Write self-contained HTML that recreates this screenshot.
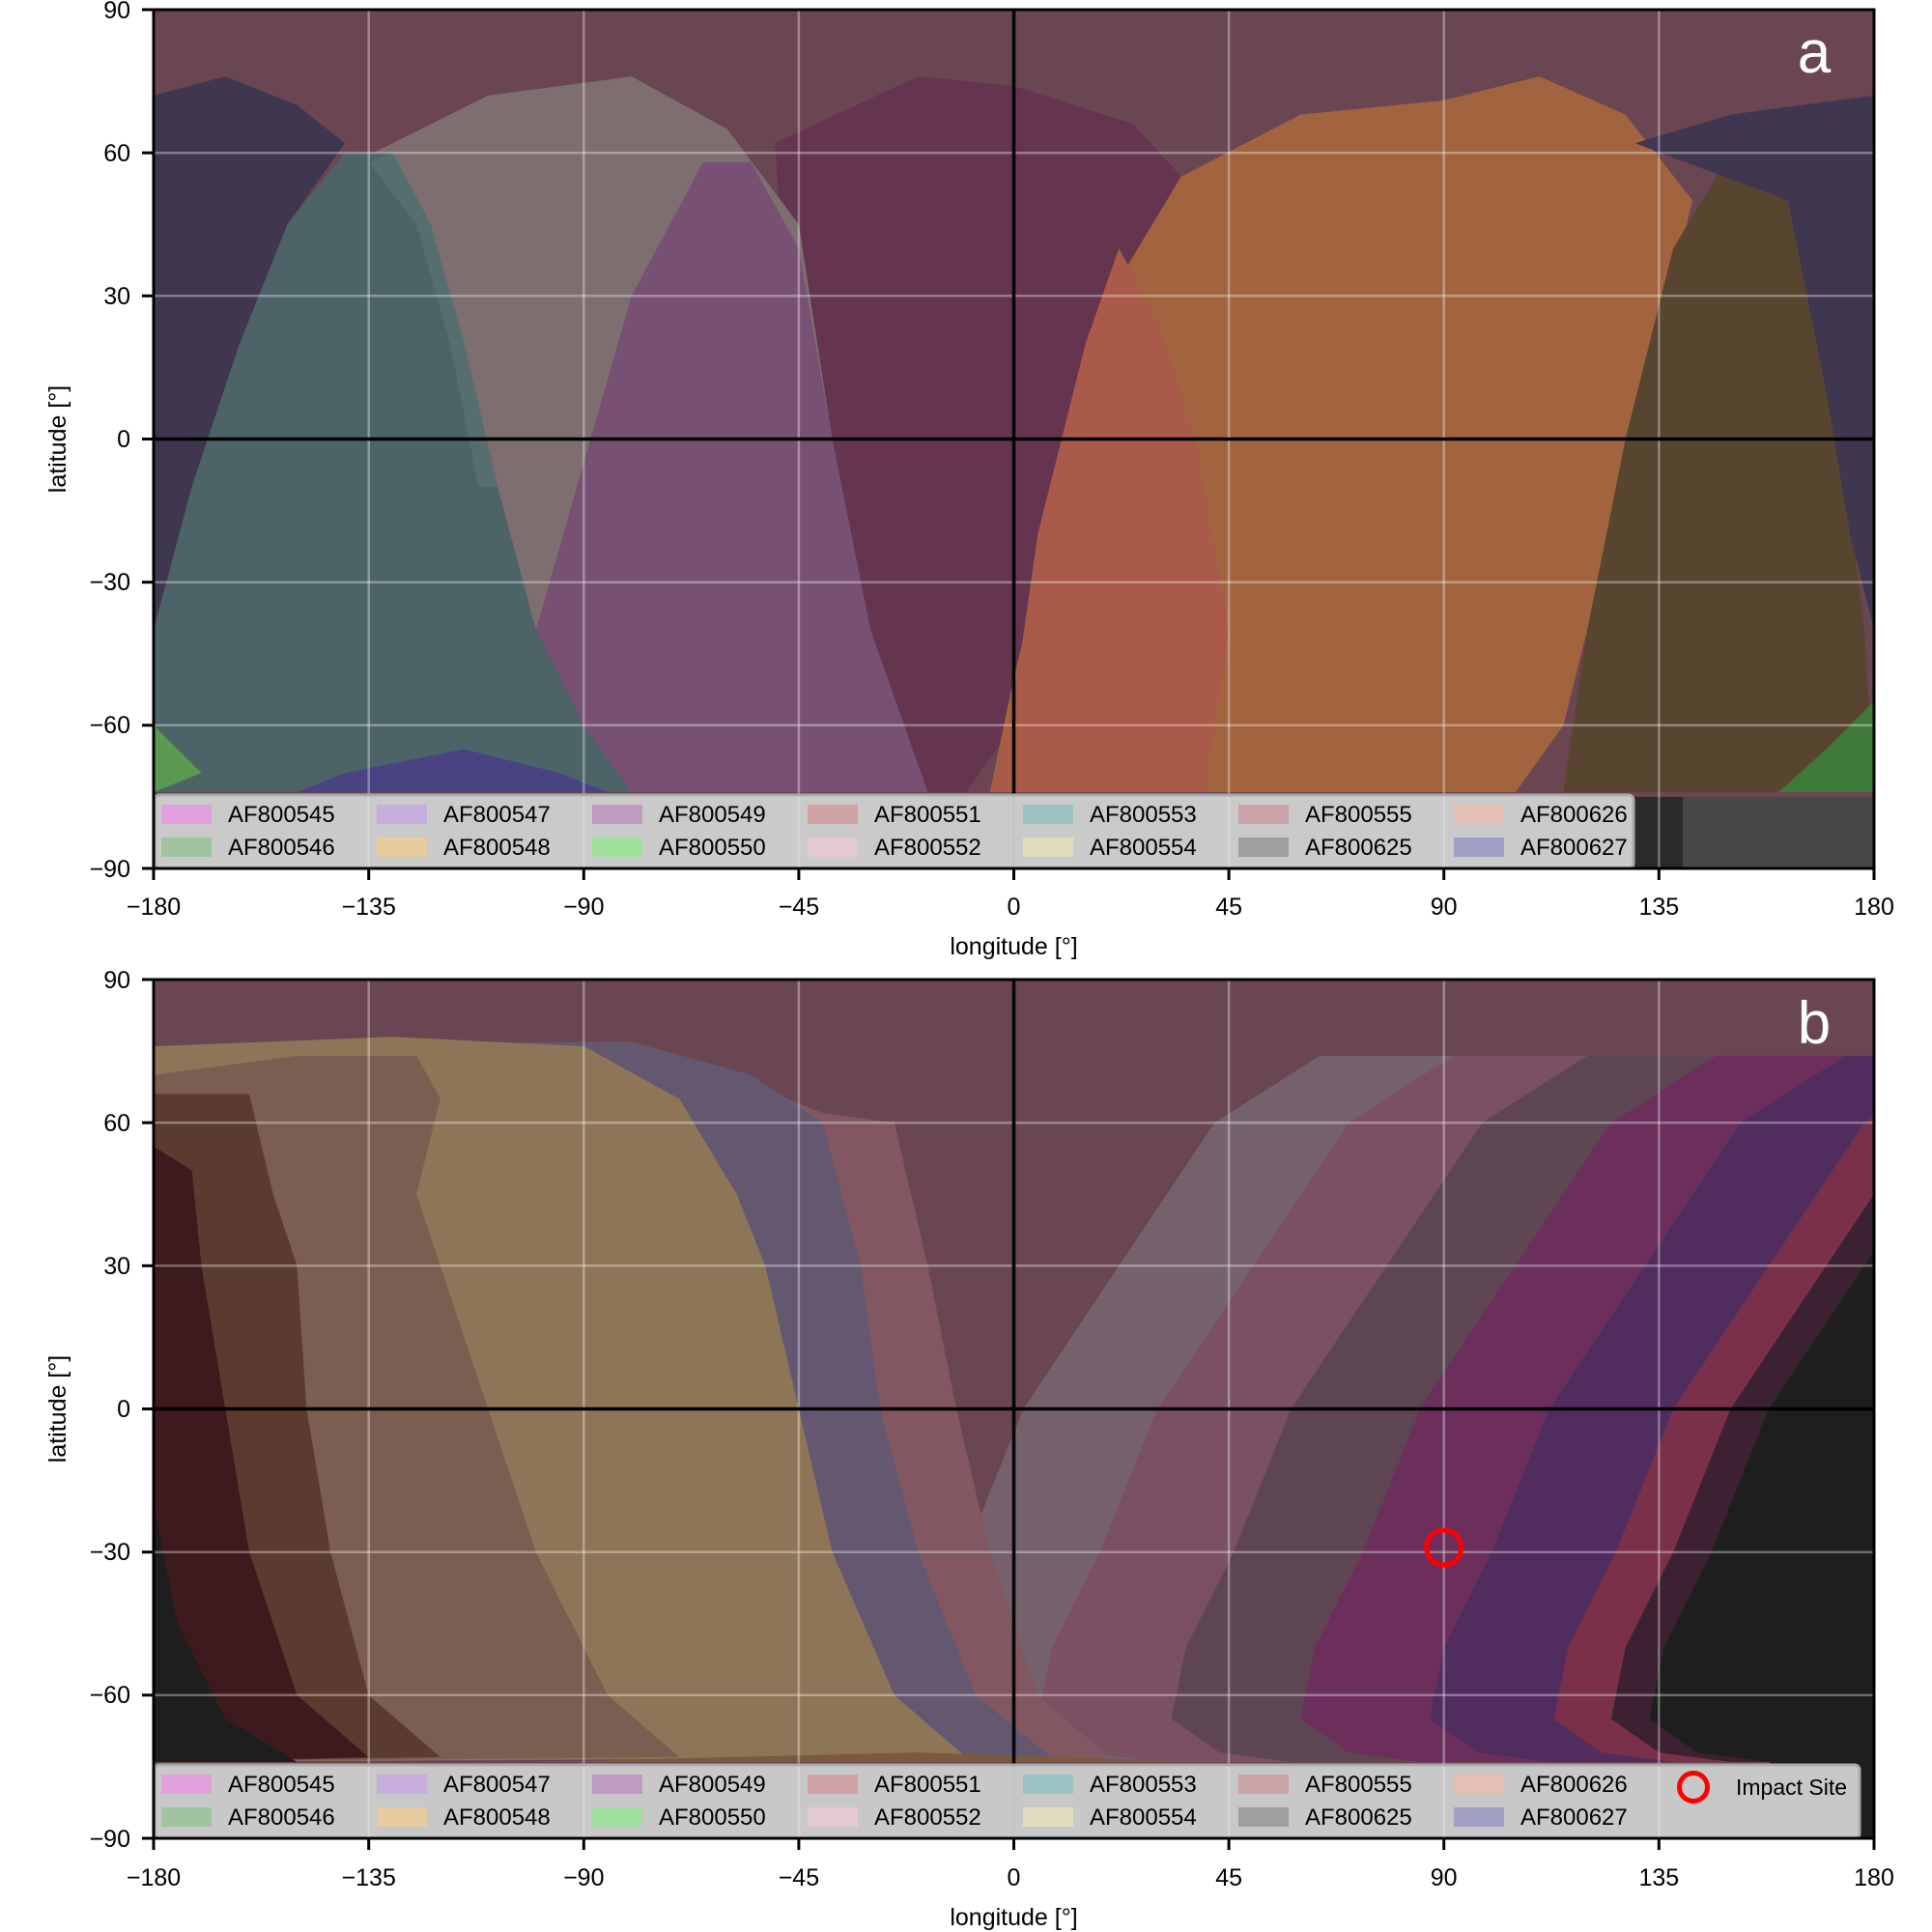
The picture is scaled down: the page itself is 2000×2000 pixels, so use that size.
<!DOCTYPE html>
<html><head><meta charset="utf-8"><style>
html,body{margin:0;padding:0;background:#fff}
svg{display:block}
text{font-family:"Liberation Sans",Arial,sans-serif;fill:#000}
</style></head><body>
<svg width="2000" height="2000" viewBox="0 0 2000 2000" xmlns="http://www.w3.org/2000/svg">
<defs>
<clipPath id="cp"><rect x="-180" y="-90" width="360" height="180"/></clipPath>
</defs>

<!-- PANEL A -->
<g transform="translate(1049.5,454.5) scale(4.947,-4.939)" clip-path="url(#cp)">
<rect x="-180" y="-90" width="360" height="180" fill="#2a2a2a"/>
<rect x="140" y="-90" width="40" height="16" fill="#474747"/>
<rect x="-180" y="-75" width="360" height="165" fill="#6a4552"/>
<polygon fill="#65344f" points="-50,62 -20,76 0,74 25,66 35,55 30,20 15,-30 0,-60 -10,-74 -40,-74"/>
<polygon fill="#7d6e6f" points="-138,58 -110,72 -80,76 -60,65 -45,45 -38,0 -30,-40 -20,-74 -140,-74 -122,-45 -118,0 -125,40"/>
<polygon fill="#785074" points="-115,-74 -100,-40 -90,-5 -80,30 -65,58 -55,58 -45,40 -38,0 -30,-40 -18,-74"/>
<polygon fill="#3f3650" points="-180,72 -165,76 -150,70 -140,62 -152,45 -162,20 -172,-10 -180,-40"/>
<polygon fill="#4c6467" points="-180,-40 -172,-10 -162,20 -152,45 -140,60 -130,60 -122,45 -115,20 -108,-10 -100,-40 -90,-60 -80,-74 -180,-74"/>
<polygon fill="#5f7476" opacity="0.6" points="-135,58 -125,45 -118,20 -112,-10 -108,-10 -115,20 -122,45 -130,60"/>
<polygon fill="#4a3590" opacity="0.7" points="-140,-70 -115,-65 -95,-70 -85,-74 -150,-74"/>
<polygon fill="#a2643f" points="20,30 35,55 60,68 90,71 110,76 128,68 142,50 135,20 125,-20 115,-60 105,-74 -5,-74 0,-50 10,-10"/>
<polygon fill="#a95a48" points="0,-55 5,-20 15,20 22,40 30,25 38,0 45,-40 40,-74 -5,-74"/>
<polygon fill="#58452f" points="115,-74 120,-40 128,0 138,40 150,60 165,50 172,10 178,-40 180,-74"/>
<polygon fill="#3f3650" points="130,62 150,68 180,72 180,-40 175,-20 170,10 162,50"/>
<polygon fill="#3e7a3a" points="160,-74 170,-65 180,-55 180,-74"/>
<polygon fill="#5a9a50" points="-180,-60 -170,-70 -180,-74"/>
</g>

<!-- PANEL B -->
<g transform="translate(1049.5,1458.5) scale(4.947,-4.939)" clip-path="url(#cp)">
<rect x="-180" y="-90" width="360" height="180" fill="#1e1e1e"/>
<rect x="-180" y="-75" width="360" height="165" fill="#6a4552"/>
<polygon fill="#75616b" points="64,74 42,60 32,45 22,30 12,15 2,0 -10,-30 -20,-50 -23,-65 -13,-72 2,-74 180,-74 180,74"/>
<polygon fill="#7b5062" points="92,74 70,60 60,45 50,30 40,15 30,0 18,-30 8,-50 5,-65 15,-72 30,-74 180,-74 180,74"/>
<polygon fill="#5d4651" points="120,74 98,60 88,45 78,30 68,15 58,0 46,-30 36,-50 33,-65 43,-72 58,-74 180,-74 180,74"/>
<polygon fill="#6c2f5c" points="147,74 125,60 115,45 105,30 95,15 85,0 73,-30 63,-50 60,-65 70,-72 85,-74 180,-74 180,74"/>
<polygon fill="#512d5f" points="174,74 152,60 142,45 132,30 122,15 112,0 100,-30 90,-50 87,-65 97,-72 112,-74 180,-74 180,74"/>
<polygon fill="#7a3049" points="200,74 178,60 168,45 158,30 148,15 138,0 126,-30 116,-50 113,-65 123,-72 138,-74 180,-74 180,74"/>
<polygon fill="#3b2131" points="212,74 190,60 180,45 170,30 160,15 150,0 138,-30 128,-50 125,-65 135,-72 150,-74 180,-74 180,74"/>
<polygon fill="#1e1e1e" points="220,74 198,60 188,45 178,30 168,15 158,0 146,-30 136,-50 133,-65 143,-72 158,-74 180,-90 180,74"/>
<polygon fill="#825762" points="-180,70 -60,70 -40,62 -25,60 -18,30 -12,0 -5,-30 5,-60 20,-73 -180,-74"/>
<polygon fill="#645871" points="-180,76 -80,77 -55,70 -40,60 -32,30 -28,0 -20,-30 -8,-60 8,-73 -180,-74"/>
<polygon fill="#8e7557" points="-180,76 -130,78 -90,76 -70,65 -58,45 -52,30 -45,0 -38,-30 -25,-60 -10,-73 -180,-74"/>
<polygon fill="#7b5d52" points="-180,70 -150,74 -125,74 -120,65 -125,45 -120,30 -110,0 -100,-30 -85,-60 -70,-73 -180,-74"/>
<polygon fill="#5b3b30" points="-180,66 -160,66 -155,45 -150,30 -148,0 -143,-30 -135,-60 -120,-73 -180,-74"/>
<polygon fill="#3d1a1d" points="-180,55 -172,50 -170,30 -165,0 -160,-30 -150,-60 -135,-73 -180,-74"/>
<polygon fill="#1e1e1e" points="-180,-20 -175,-45 -165,-65 -150,-74 -180,-74"/>
<polygon fill="#7a5a3a" points="-100,-74 -20,-72 40,-74"/>
</g>

<!-- grids and axes -->
<g stroke="#ffffff" stroke-opacity="0.35" stroke-width="2.5">
<line x1="381.7" y1="10" x2="381.7" y2="899"/><line x1="604.3" y1="10" x2="604.3" y2="899"/><line x1="826.9" y1="10" x2="826.9" y2="899"/><line x1="1272.1" y1="10" x2="1272.1" y2="899"/><line x1="1494.7" y1="10" x2="1494.7" y2="899"/><line x1="1717.3" y1="10" x2="1717.3" y2="899"/>
<line x1="159" y1="158.2" x2="1940" y2="158.2"/><line x1="159" y1="306.3" x2="1940" y2="306.3"/><line x1="159" y1="602.7" x2="1940" y2="602.7"/><line x1="159" y1="750.8" x2="1940" y2="750.8"/>
<line x1="381.7" y1="1014" x2="381.7" y2="1903"/><line x1="604.3" y1="1014" x2="604.3" y2="1903"/><line x1="826.9" y1="1014" x2="826.9" y2="1903"/><line x1="1272.1" y1="1014" x2="1272.1" y2="1903"/><line x1="1494.7" y1="1014" x2="1494.7" y2="1903"/><line x1="1717.3" y1="1014" x2="1717.3" y2="1903"/>
<line x1="159" y1="1162.2" x2="1940" y2="1162.2"/><line x1="159" y1="1310.3" x2="1940" y2="1310.3"/><line x1="159" y1="1606.7" x2="1940" y2="1606.7"/><line x1="159" y1="1754.8" x2="1940" y2="1754.8"/>
</g>
<g stroke="#000" stroke-width="3.5">
<line x1="1049.5" y1="10" x2="1049.5" y2="899"/><line x1="159" y1="454.5" x2="1940" y2="454.5"/>
<line x1="1049.5" y1="1014" x2="1049.5" y2="1903"/><line x1="159" y1="1458.5" x2="1940" y2="1458.5"/>
</g>

<circle cx="1494.7" cy="1602" r="18" fill="none" stroke="#ff0000" stroke-width="5"/>

<text x="1878" y="75" font-size="62" style="fill:#fff" text-anchor="middle">a</text>
<text x="1878" y="1080" font-size="62" style="fill:#fff" text-anchor="middle">b</text>

<rect x="160" y="823" width="1531" height="76" rx="5" fill="#e6e6e6" fill-opacity="0.85" stroke="#aaa" stroke-width="3"/>
<rect x="160" y="1827" width="1765" height="76" rx="5" fill="#e6e6e6" fill-opacity="0.85" stroke="#aaa" stroke-width="3"/>

<g font-size="24">
<rect x="167" y="833" width="52" height="20" fill="#e3a0df"/><text x="236" y="851">AF800545</text>
<rect x="167" y="867" width="52" height="20" fill="#a0c4a0"/><text x="236" y="885">AF800546</text>
<rect x="390" y="833" width="52" height="20" fill="#c8aede"/><text x="459" y="851">AF800547</text>
<rect x="390" y="867" width="52" height="20" fill="#e6cc9e"/><text x="459" y="885">AF800548</text>
<rect x="613" y="833" width="52" height="20" fill="#c09ac0"/><text x="682" y="851">AF800549</text>
<rect x="613" y="867" width="52" height="20" fill="#9fe09d"/><text x="682" y="885">AF800550</text>
<rect x="836" y="833" width="52" height="20" fill="#cfa2a6"/><text x="905" y="851">AF800551</text>
<rect x="836" y="867" width="52" height="20" fill="#e3c9d0"/><text x="905" y="885">AF800552</text>
<rect x="1059" y="833" width="52" height="20" fill="#9bc3c3"/><text x="1128" y="851">AF800553</text>
<rect x="1059" y="867" width="52" height="20" fill="#e2dcbe"/><text x="1128" y="885">AF800554</text>
<rect x="1282" y="833" width="52" height="20" fill="#c9a3a8"/><text x="1351" y="851">AF800555</text>
<rect x="1282" y="867" width="52" height="20" fill="#9e9e9e"/><text x="1351" y="885">AF800625</text>
<rect x="1505" y="833" width="52" height="20" fill="#e4bfb3"/><text x="1574" y="851">AF800626</text>
<rect x="1505" y="867" width="52" height="20" fill="#a0a0c4"/><text x="1574" y="885">AF800627</text>

<rect x="167" y="1837" width="52" height="20" fill="#e3a0df"/><text x="236" y="1855">AF800545</text>
<rect x="167" y="1871" width="52" height="20" fill="#a0c4a0"/><text x="236" y="1889">AF800546</text>
<rect x="390" y="1837" width="52" height="20" fill="#c8aede"/><text x="459" y="1855">AF800547</text>
<rect x="390" y="1871" width="52" height="20" fill="#e6cc9e"/><text x="459" y="1889">AF800548</text>
<rect x="613" y="1837" width="52" height="20" fill="#c09ac0"/><text x="682" y="1855">AF800549</text>
<rect x="613" y="1871" width="52" height="20" fill="#9fe09d"/><text x="682" y="1889">AF800550</text>
<rect x="836" y="1837" width="52" height="20" fill="#cfa2a6"/><text x="905" y="1855">AF800551</text>
<rect x="836" y="1871" width="52" height="20" fill="#e3c9d0"/><text x="905" y="1889">AF800552</text>
<rect x="1059" y="1837" width="52" height="20" fill="#9bc3c3"/><text x="1128" y="1855">AF800553</text>
<rect x="1059" y="1871" width="52" height="20" fill="#e2dcbe"/><text x="1128" y="1889">AF800554</text>
<rect x="1282" y="1837" width="52" height="20" fill="#c9a3a8"/><text x="1351" y="1855">AF800555</text>
<rect x="1282" y="1871" width="52" height="20" fill="#9e9e9e"/><text x="1351" y="1889">AF800625</text>
<rect x="1505" y="1837" width="52" height="20" fill="#e4bfb3"/><text x="1574" y="1855">AF800626</text>
<rect x="1505" y="1871" width="52" height="20" fill="#a0a0c4"/><text x="1574" y="1889">AF800627</text>
<circle cx="1753" cy="1850" r="14.5" fill="none" stroke="#ff0000" stroke-width="5"/>
<text x="1797" y="1858" font-size="23">Impact Site</text>
</g>

<rect x="159" y="10" width="1781" height="889" fill="none" stroke="#000" stroke-width="3"/>
<rect x="159" y="1014" width="1781" height="889" fill="none" stroke="#000" stroke-width="3"/>

<g stroke="#000" stroke-width="3">
<line x1="159" y1="899" x2="159" y2="911"/><line x1="381.7" y1="899" x2="381.7" y2="911"/><line x1="604.3" y1="899" x2="604.3" y2="911"/><line x1="826.9" y1="899" x2="826.9" y2="911"/><line x1="1049.5" y1="899" x2="1049.5" y2="911"/><line x1="1272.1" y1="899" x2="1272.1" y2="911"/><line x1="1494.7" y1="899" x2="1494.7" y2="911"/><line x1="1717.3" y1="899" x2="1717.3" y2="911"/><line x1="1940" y1="899" x2="1940" y2="911"/>
<line x1="159" y1="1903" x2="159" y2="1915"/><line x1="381.7" y1="1903" x2="381.7" y2="1915"/><line x1="604.3" y1="1903" x2="604.3" y2="1915"/><line x1="826.9" y1="1903" x2="826.9" y2="1915"/><line x1="1049.5" y1="1903" x2="1049.5" y2="1915"/><line x1="1272.1" y1="1903" x2="1272.1" y2="1915"/><line x1="1494.7" y1="1903" x2="1494.7" y2="1915"/><line x1="1717.3" y1="1903" x2="1717.3" y2="1915"/><line x1="1940" y1="1903" x2="1940" y2="1915"/>
<line x1="147" y1="10" x2="159" y2="10"/><line x1="147" y1="158.2" x2="159" y2="158.2"/><line x1="147" y1="306.3" x2="159" y2="306.3"/><line x1="147" y1="454.5" x2="159" y2="454.5"/><line x1="147" y1="602.7" x2="159" y2="602.7"/><line x1="147" y1="750.8" x2="159" y2="750.8"/><line x1="147" y1="899" x2="159" y2="899"/>
<line x1="147" y1="1014" x2="159" y2="1014"/><line x1="147" y1="1162.2" x2="159" y2="1162.2"/><line x1="147" y1="1310.3" x2="159" y2="1310.3"/><line x1="147" y1="1458.5" x2="159" y2="1458.5"/><line x1="147" y1="1606.7" x2="159" y2="1606.7"/><line x1="147" y1="1754.8" x2="159" y2="1754.8"/><line x1="147" y1="1903" x2="159" y2="1903"/>
</g>

<g font-size="25" text-anchor="end">
<text x="135" y="19">90</text><text x="135" y="167">60</text><text x="135" y="315">30</text><text x="135" y="463">0</text><text x="135" y="611">−30</text><text x="135" y="759">−60</text><text x="135" y="908">−90</text>
<text x="135" y="1023">90</text><text x="135" y="1171">60</text><text x="135" y="1319">30</text><text x="135" y="1467">0</text><text x="135" y="1615">−30</text><text x="135" y="1763">−60</text><text x="135" y="1912">−90</text>
</g>
<g font-size="25" text-anchor="middle">
<text x="159" y="947">−180</text><text x="381.7" y="947">−135</text><text x="604.3" y="947">−90</text><text x="826.9" y="947">−45</text><text x="1049.5" y="947">0</text><text x="1272.1" y="947">45</text><text x="1494.7" y="947">90</text><text x="1717.3" y="947">135</text><text x="1940" y="947">180</text>
<text x="159" y="1952">−180</text><text x="381.7" y="1952">−135</text><text x="604.3" y="1952">−90</text><text x="826.9" y="1952">−45</text><text x="1049.5" y="1952">0</text><text x="1272.1" y="1952">45</text><text x="1494.7" y="1952">90</text><text x="1717.3" y="1952">135</text><text x="1940" y="1952">180</text>
<text x="1049.5" y="988">longitude [°]</text>
<text x="1049.5" y="1993">longitude [°]</text>
<text transform="translate(68,454.5) rotate(-90)">latitude [°]</text>
<text transform="translate(68,1458.5) rotate(-90)">latitude [°]</text>
</g>
</svg>
</body></html>
